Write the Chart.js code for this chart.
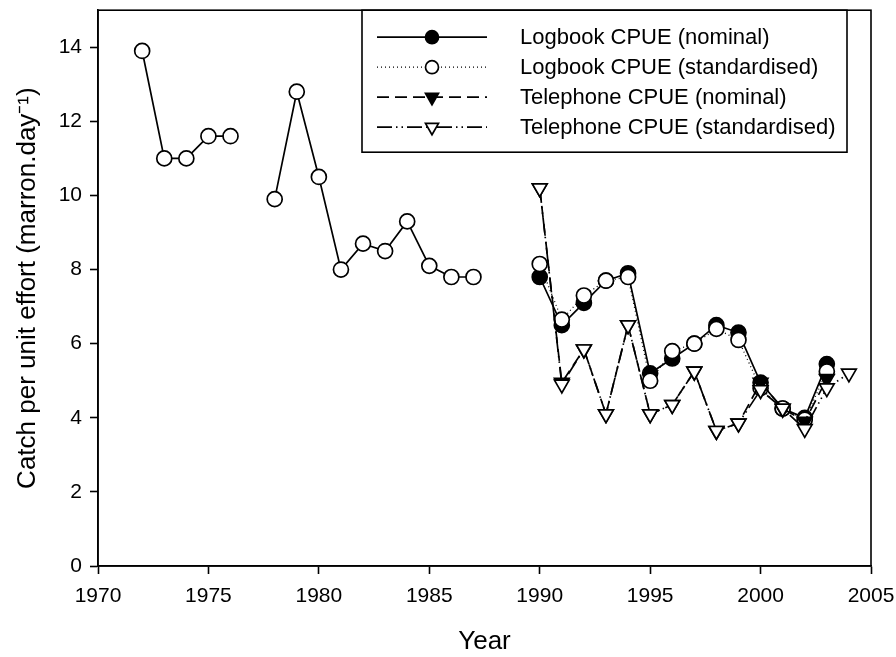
<!DOCTYPE html>
<html>
<head>
<meta charset="utf-8">
<script src="https://cdn.jsdelivr.net/npm/chart.js@4/dist/chart.umd.min.js"></script>
<style>
  html, body { margin: 0; padding: 0; background: #fff; }
  #wrap { width: 896px; height: 657px; position: relative; }
</style>
</head>
<body>
<div id="wrap"><canvas id="c" width="896" height="657"></canvas></div>
<script>
// ---- data ----
const histYears = [1972, 1973, 1974, 1975, 1976, 1977, 1978, 1979, 1980, 1981, 1982, 1983, 1984, 1985, 1986, 1987];
const histCPUE  = [13.9, 11.0, 11.0, 11.6, 11.6, null, 9.9, 12.8, 10.5, 8.0, 8.7, 8.5, 9.3, 8.1, 7.8, 7.8];

const logYears      = [1990, 1991, 1992, 1993, 1994, 1995, 1996, 1997, 1998, 1999, 2000, 2001, 2002, 2003];
const logNominal    = [7.8, 6.5, 7.1, 7.7, 7.9, 5.2, 5.6, 6.0, 6.5, 6.3, 4.95, 4.25, 4.0, 5.45];
const logStandard   = [8.15, 6.65, 7.3, 7.7, 7.8, 5.0, 5.8, 6.0, 6.4, 6.1, 4.8, 4.25, 3.95, 5.25];

const telNomYears   = [1990, 1991, 1992, 1993, 1994, 1995, 1996, 1997, 1998, 1999, 2000, 2001, 2002, 2003];
const telNominal    = [10.2, 4.95, 5.85, 4.1, 6.5, 4.1, 4.35, 5.25, 3.65, 3.85, 4.95, 4.25, 3.9, 5.05];
const telStdYears   = [1990, 1991, 1992, 1993, 1994, 1995, 1996, 1997, 1998, 1999, 2000, 2001, 2002, 2003, 2004];
const telStandard   = [10.2, 4.9, 5.85, 4.1, 6.5, 4.1, 4.35, 5.25, 3.65, 3.85, 4.75, 4.25, 3.7, 4.8, 5.2];

const seriesLabels = ['Logbook CPUE (nominal)', 'Logbook CPUE (standardised)', 'Telephone CPUE (nominal)', 'Telephone CPUE (standardised)'];
const xTicks = [1970, 1975, 1980, 1985, 1990, 1995, 2000, 2005];
const yTicks = [0, 2, 4, 6, 8, 10, 12, 14];
const xTitle = 'Year';
const yTitle = 'Catch per unit effort (marron.day\u207B\u00B9)';

function pts(xs, ys) { return xs.map((x, i) => ({ x: x, y: ys[i] })); }

const FONT = '"Liberation Sans", Arial, Helvetica, sans-serif';

const datasets = [
  { label: 'historical', inLegend: false, data: pts(histYears, histCPUE),
    borderColor: '#000', borderWidth: 1.7, pointStyle: 'circle', pointRadius: 7.5,
    pointBackgroundColor: '#fff', pointBorderColor: '#000', pointBorderWidth: 1.7, spanGaps: false, order: 4 },
  { label: seriesLabels[0], inLegend: true, data: pts(logYears, logNominal),
    borderColor: '#000', borderWidth: 1.7, pointStyle: 'circle', pointRadius: 7.5,
    pointBackgroundColor: '#000', pointBorderColor: '#000', pointBorderWidth: 1.7, order: 3 },
  { label: seriesLabels[1], inLegend: true, data: pts(logYears, logStandard),
    borderColor: '#000', borderWidth: 1.3, borderDash: [1, 3], pointStyle: 'circle', pointRadius: 7.5,
    pointBackgroundColor: '#fff', pointBorderColor: '#000', pointBorderWidth: 1.7, order: 2 },
  { label: seriesLabels[2], inLegend: true, data: pts(telNomYears, telNominal),
    borderColor: '#000', borderWidth: 1.7, borderDash: [12, 6], pointStyle: 'triangle', pointRotation: 180, pointRadius: 8.5,
    pointBackgroundColor: '#000', pointBorderColor: '#000', pointBorderWidth: 1.7, order: 1 },
  { label: seriesLabels[3], inLegend: true, data: pts(telStdYears, telStandard),
    borderColor: '#000', borderWidth: 1.7, borderDash: [15, 4, 1.5, 4, 1.5, 4], pointStyle: 'triangle', pointRotation: 180, pointRadius: 8.5,
    pointBackgroundColor: '#fff', pointBorderColor: '#000', pointBorderWidth: 1.7, order: 0 }
];

const framePlugin = {
  id: 'frameAndLegend',
  afterDraw(chart) {
    const ctx = chart.ctx, a = chart.chartArea;
    ctx.save();
    ctx.strokeStyle = '#000';
    ctx.lineWidth = 1.6;
    ctx.setLineDash([]);
    ctx.strokeRect(a.left, a.top, a.right - a.left, a.bottom - a.top);

    // legend box inside the plot, upper right
    const boxRight = a.right - 24, boxLeft = boxRight - 485;
    const boxTop = a.top, boxBottom = a.top + 142;
    ctx.fillStyle = '#fff';
    ctx.fillRect(boxLeft, boxTop, boxRight - boxLeft, boxBottom - boxTop);
    ctx.strokeRect(boxLeft, boxTop, boxRight - boxLeft, boxBottom - boxTop);

    const items = chart.data.datasets.filter(d => d.inLegend);
    ctx.font = '22px ' + FONT;
    ctx.textBaseline = 'middle';
    ctx.textAlign = 'left';
    items.forEach((d, i) => {
      const y = boxTop + 27 + i * 30;
      const x0 = boxLeft + 15, x1 = boxLeft + 125, xm = (x0 + x1) / 2;
      ctx.strokeStyle = d.borderColor;
      ctx.lineWidth = d.borderWidth;
      ctx.setLineDash(d.borderDash || []);
      ctx.beginPath(); ctx.moveTo(x0, y); ctx.lineTo(x1, y); ctx.stroke();
      ctx.setLineDash([]);
      ctx.fillStyle = d.pointBackgroundColor;
      ctx.strokeStyle = d.pointBorderColor;
      ctx.lineWidth = d.pointBorderWidth;
      Chart.helpers.drawPoint(ctx, {
        pointStyle: d.pointStyle, rotation: d.pointRotation || 0,
        radius: d.pointStyle === 'triangle' ? 7.5 : 6.5, borderWidth: d.pointBorderWidth
      }, xm, y);
      ctx.fillStyle = '#000';
      ctx.fillText(d.label, boxLeft + 158, y + 1);
    });
    ctx.restore();
  }
};

new Chart(document.getElementById('c'), {
  type: 'line',
  data: { datasets: datasets },
  options: {
    responsive: false,
    animation: false,
    devicePixelRatio: 1,
    layout: { padding: { left: 0, right: 25, top: 10, bottom: 0 } },
    plugins: { legend: { display: false }, tooltip: { enabled: false } },
    elements: { line: { tension: 0 } },
    scales: {
      x: {
        type: 'linear', min: 1970, max: 2005,
        afterBuildTicks(s) { s.ticks = xTicks.map(v => ({ value: v })); },
        afterFit(s) { s.height = 91; s.paddingLeft = 0; s.paddingRight = 0; },
        grid: { drawOnChartArea: false, drawTicks: true, tickLength: 8, color: '#000', tickWidth: 1.6 },
        border: { display: true, color: '#000', width: 1.6 },
        ticks: { color: '#000', font: { family: FONT, size: 21 }, padding: 10, maxRotation: 0,
                 callback: v => String(v) },
        title: { display: true, text: xTitle, color: '#000', font: { family: FONT, size: 26 }, padding: { top: 0, bottom: 0 } }
      },
      y: {
        type: 'linear', min: 0, max: 15,
        afterBuildTicks(s) { s.ticks = yTicks.map(v => ({ value: v })); },
        afterFit(s) { s.width = 98; s.paddingTop = 0; s.paddingBottom = 0; },
        grid: { drawOnChartArea: false, drawTicks: true, tickLength: 8, color: '#000', tickWidth: 1.6 },
        border: { display: true, color: '#000', width: 1.6 },
        ticks: { color: '#000', font: { family: FONT, size: 21 }, padding: 8, callback: v => String(v) },
        title: { display: true, text: yTitle, color: '#000', font: { family: FONT, size: 26 }, padding: { top: 12, bottom: 0 } }
      }
    }
  },
  plugins: [framePlugin]
});
</script>
</body>
</html>
